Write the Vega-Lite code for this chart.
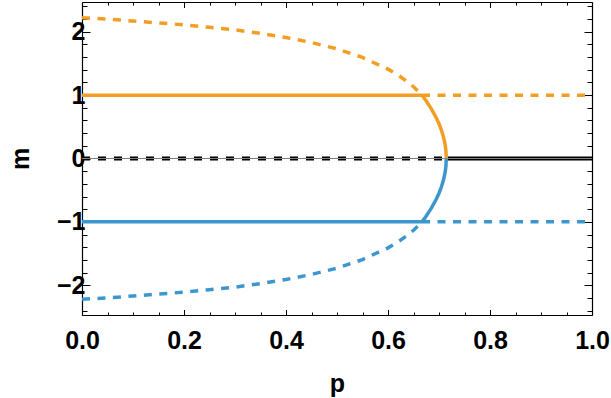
{
  "$schema": "https://vega.github.io/schema/vega-lite/v6.json",
  "width": 510,
  "height": 313,
  "autosize": {"type": "none"},
  "padding": {"left": 82, "top": 2, "right": 19, "bottom": 83},
  "background": "white",
  "config": {
    "view": {"stroke": null},
    "axis": {
      "grid": false,
      "labelFont": "Liberation Sans",
      "labelFontWeight": "bold",
      "labelFontSize": 25,
      "labelColor": "black",
      "titleFont": "Liberation Sans",
      "titleFontWeight": "bold",
      "titleFontSize": 25,
      "titleColor": "black",
      "domainColor": "black",
      "domainWidth": 1.2,
      "tickColor": "black",
      "tickWidth": 1,
      "labelOverlap": false,
      "labelFlush": false,
      "labelBound": false,
      "zindex": 1
    }
  },
  "data": {"values": [
    {"s": "ou", "p": 0, "m": 2.22}, {"s": "ou", "p": 0.05, "m": 2.2}, {"s": "ou", "p": 0.1, "m": 2.17}, {"s": "ou", "p": 0.15, "m": 2.14}, {"s": "ou", "p": 0.2, "m": 2.11}, {"s": "ou", "p": 0.25, "m": 2.07}, {"s": "ou", "p": 0.3, "m": 2.03}, {"s": "ou", "p": 0.35, "m": 1.975}, {"s": "ou", "p": 0.4, "m": 1.91}, {"s": "ou", "p": 0.45, "m": 1.83}, {"s": "ou", "p": 0.5, "m": 1.73}, {"s": "ou", "p": 0.55, "m": 1.595}, {"s": "ou", "p": 0.6, "m": 1.41}, {"s": "ou", "p": 0.62, "m": 1.315}, {"s": "ou", "p": 0.64, "m": 1.2}, {"s": "ou", "p": 0.65, "m": 1.132}, {"s": "ou", "p": 0.66, "m": 1.056}, {"s": "ou", "p": 0.6667, "m": 1.0},
    {"s": "o1s", "p": 0, "m": 1}, {"s": "o1s", "p": 0.6667, "m": 1},
    {"s": "o1d", "p": 0.6667, "m": 1}, {"s": "o1d", "p": 1, "m": 1},
    {"s": "oarc", "p": 0.6667, "m": 1.0}, {"s": "oarc", "p": 0.675, "m": 0.908}, {"s": "oarc", "p": 0.685, "m": 0.784}, {"s": "oarc", "p": 0.695, "m": 0.636}, {"s": "oarc", "p": 0.7, "m": 0.548}, {"s": "oarc", "p": 0.705, "m": 0.442}, {"s": "oarc", "p": 0.709, "m": 0.333}, {"s": "oarc", "p": 0.712, "m": 0.219}, {"s": "oarc", "p": 0.7135, "m": 0.128}, {"s": "oarc", "p": 0.7143, "m": 0},
    {"s": "bl", "p": 0, "m": -2.22}, {"s": "bl", "p": 0.05, "m": -2.2}, {"s": "bl", "p": 0.1, "m": -2.17}, {"s": "bl", "p": 0.15, "m": -2.14}, {"s": "bl", "p": 0.2, "m": -2.11}, {"s": "bl", "p": 0.25, "m": -2.07}, {"s": "bl", "p": 0.3, "m": -2.03}, {"s": "bl", "p": 0.35, "m": -1.975}, {"s": "bl", "p": 0.4, "m": -1.91}, {"s": "bl", "p": 0.45, "m": -1.83}, {"s": "bl", "p": 0.5, "m": -1.73}, {"s": "bl", "p": 0.55, "m": -1.595}, {"s": "bl", "p": 0.6, "m": -1.41}, {"s": "bl", "p": 0.62, "m": -1.315}, {"s": "bl", "p": 0.64, "m": -1.2}, {"s": "bl", "p": 0.65, "m": -1.132}, {"s": "bl", "p": 0.66, "m": -1.056}, {"s": "bl", "p": 0.6667, "m": -1.0},
    {"s": "b1s", "p": 0, "m": -1}, {"s": "b1s", "p": 0.6667, "m": -1},
    {"s": "b1d", "p": 0.6667, "m": -1}, {"s": "b1d", "p": 1, "m": -1},
    {"s": "barc", "p": 0.6667, "m": -1.0}, {"s": "barc", "p": 0.675, "m": -0.908}, {"s": "barc", "p": 0.685, "m": -0.784}, {"s": "barc", "p": 0.695, "m": -0.636}, {"s": "barc", "p": 0.7, "m": -0.548}, {"s": "barc", "p": 0.705, "m": -0.442}, {"s": "barc", "p": 0.709, "m": -0.333}, {"s": "barc", "p": 0.712, "m": -0.219}, {"s": "barc", "p": 0.7135, "m": -0.128}, {"s": "barc", "p": 0.7143, "m": 0},
    {"s": "kd", "p": 0, "m": 0}, {"s": "kd", "p": 0.7143, "m": 0},
    {"s": "ks", "p": 0.7143, "m": 0}, {"s": "ks", "p": 1, "m": 0},
    {"s": "kt", "p": 0, "m": 0}, {"s": "kt", "p": 1, "m": 0}
  ]},
  "resolve": {"axis": {"x": "independent", "y": "independent"}},
  "layer": [
    {
      "transform": [{"filter": "datum.s === 'kd'"}],
      "mark": {"type": "line", "color": "black", "strokeWidth": 4, "strokeDash": [8, 8]},
      "encoding": {
        "x": {"field": "p", "type": "quantitative", "scale": {"domain": [0, 1], "nice": false, "zero": false},
          "axis": {"orient": "bottom", "title": "p",
            "values": [0, 0.05, 0.1, 0.15, 0.2, 0.25, 0.3, 0.35, 0.4, 0.45, 0.5, 0.55, 0.6, 0.65, 0.7, 0.75, 0.8, 0.85, 0.9, 0.95, 1],
            "labelExpr": "abs(datum.value*5 - round(datum.value*5)) < 0.001 ? format(datum.value, '.1f') : ''",
            "tickSize": {"condition": {"test": "abs(datum.value*5 - round(datum.value*5)) < 0.001", "value": -5.5}, "value": -3},
            "labelPadding": 19,
            "titleX": 255, "titleY": 76, "titleBaseline": "alphabetic", "titleAlign": "center"}},
        "y": {"field": "m", "type": "quantitative", "scale": {"domain": [-2.47, 2.47], "nice": false, "zero": false},
          "axis": {"orient": "left", "title": "m",
            "values": [-2.4, -2.2, -2, -1.8, -1.6, -1.4, -1.2, -1, -0.8, -0.6, -0.4, -0.2, 0, 0.2, 0.4, 0.6, 0.8, 1, 1.2, 1.4, 1.6, 1.8, 2, 2.2, 2.4],
            "labelExpr": "abs(datum.value - round(datum.value)) < 0.001 ? replace(format(round(datum.value), 'd'), '-', '\u2212') : ''",
            "tickSize": {"condition": {"test": "abs(datum.value - round(datum.value)) < 0.001", "value": -8}, "value": -5},
            "labelPadding": 5,
            "titleX": -62, "titleY": 156.5, "titleAlign": "center", "titleBaseline": "middle"}}
      }
    },
    {
      "transform": [{"filter": "datum.s === 'ks'"}],
      "mark": {"type": "line", "color": "black", "strokeWidth": 4},
      "encoding": {
        "x": {"field": "p", "type": "quantitative", "scale": {"domain": [0, 1], "nice": false, "zero": false},
          "axis": {"orient": "top", "title": null, "labels": false,
            "values": [0, 0.05, 0.1, 0.15, 0.2, 0.25, 0.3, 0.35, 0.4, 0.45, 0.5, 0.55, 0.6, 0.65, 0.7, 0.75, 0.8, 0.85, 0.9, 0.95, 1],
            "tickSize": {"condition": {"test": "abs(datum.value*5 - round(datum.value*5)) < 0.001", "value": -5.5}, "value": -3}}},
        "y": {"field": "m", "type": "quantitative", "scale": {"domain": [-2.47, 2.47], "nice": false, "zero": false},
          "axis": {"orient": "right", "title": null, "labels": false,
            "values": [-2.4, -2.2, -2, -1.8, -1.6, -1.4, -1.2, -1, -0.8, -0.6, -0.4, -0.2, 0, 0.2, 0.4, 0.6, 0.8, 1, 1.2, 1.4, 1.6, 1.8, 2, 2.2, 2.4],
            "tickSize": {"condition": {"test": "abs(datum.value - round(datum.value)) < 0.001", "value": -8}, "value": -5}}}
      }
    },
    {
      "transform": [{"filter": "datum.s === 'kt'"}],
      "mark": {"type": "line", "color": "#808080", "strokeWidth": 1.1},
      "encoding": {
        "x": {"field": "p", "type": "quantitative", "scale": {"domain": [0, 1], "nice": false, "zero": false}, "axis": null},
        "y": {"field": "m", "type": "quantitative", "scale": {"domain": [-2.47, 2.47], "nice": false, "zero": false}, "axis": null}
      }
    },
    {
      "transform": [{"filter": "datum.s === 'ou' || datum.s === 'o1d'"}],
      "mark": {"type": "line", "color": "#F29E24", "strokeWidth": 3.5, "strokeDash": [8, 7.5]},
      "encoding": {
        "x": {"field": "p", "type": "quantitative", "scale": {"domain": [0, 1], "nice": false, "zero": false}, "axis": null},
        "y": {"field": "m", "type": "quantitative", "scale": {"domain": [-2.47, 2.47], "nice": false, "zero": false}, "axis": null},
        "detail": {"field": "s"}
      }
    },
    {
      "transform": [{"filter": "datum.s === 'o1s' || datum.s === 'oarc'"}],
      "mark": {"type": "line", "color": "#F29E24", "strokeWidth": 3.5},
      "encoding": {
        "x": {"field": "p", "type": "quantitative", "scale": {"domain": [0, 1], "nice": false, "zero": false}, "axis": null},
        "y": {"field": "m", "type": "quantitative", "scale": {"domain": [-2.47, 2.47], "nice": false, "zero": false}, "axis": null},
        "detail": {"field": "s"}
      }
    },
    {
      "transform": [{"filter": "datum.s === 'bl' || datum.s === 'b1d'"}],
      "mark": {"type": "line", "color": "#3D97CE", "strokeWidth": 3.5, "strokeDash": [8, 7.5]},
      "encoding": {
        "x": {"field": "p", "type": "quantitative", "scale": {"domain": [0, 1], "nice": false, "zero": false}, "axis": null},
        "y": {"field": "m", "type": "quantitative", "scale": {"domain": [-2.47, 2.47], "nice": false, "zero": false}, "axis": null},
        "detail": {"field": "s"}
      }
    },
    {
      "transform": [{"filter": "datum.s === 'b1s' || datum.s === 'barc'"}],
      "mark": {"type": "line", "color": "#3D97CE", "strokeWidth": 3.5},
      "encoding": {
        "x": {"field": "p", "type": "quantitative", "scale": {"domain": [0, 1], "nice": false, "zero": false}, "axis": null},
        "y": {"field": "m", "type": "quantitative", "scale": {"domain": [-2.47, 2.47], "nice": false, "zero": false}, "axis": null},
        "detail": {"field": "s"}
      }
    }
  ]
}
